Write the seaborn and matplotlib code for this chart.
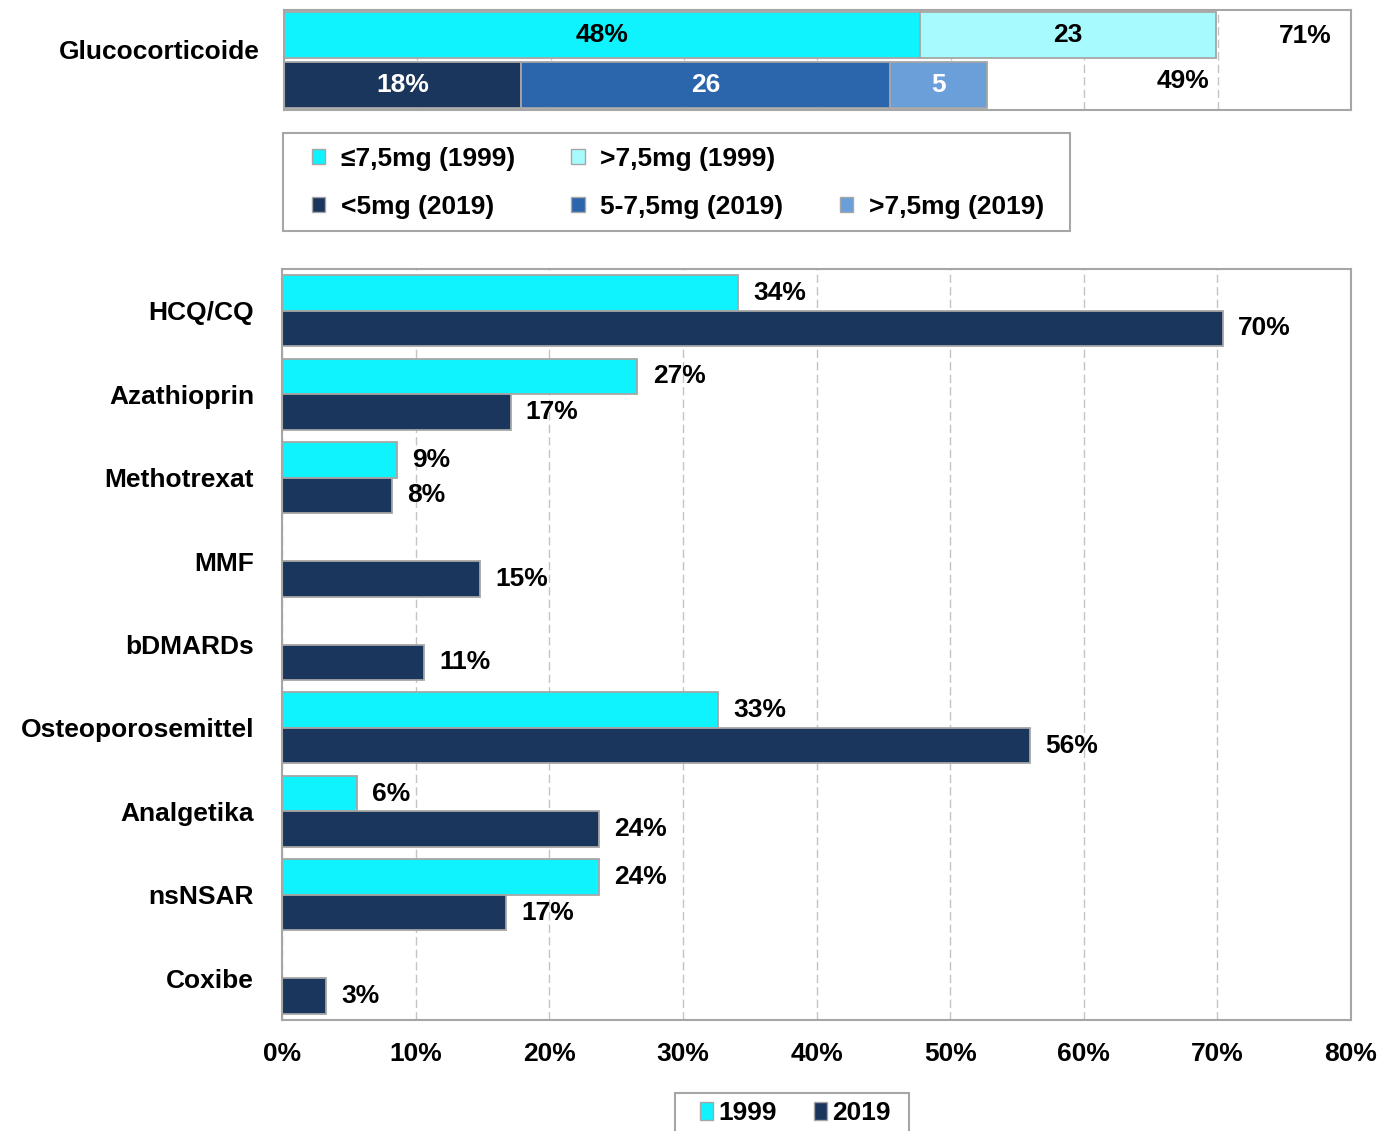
import numpy as np
import matplotlib.pyplot as plt
import pandas as pd
import seaborn as sns
from matplotlib.patches import Patch, Rectangle

# --- data ---------------------------------------------------------------
categories = ["HCQ/CQ", "Azathioprin", "Methotrexat", "MMF", "bDMARDs",
              "Osteoporosemittel", "Analgetika", "nsNSAR", "Coxibe"]
val_1999 = [34.1, 26.6, 8.6, np.nan, np.nan, 32.6, 5.6, 23.7, np.nan]
val_2019 = [70.4, 17.1, 8.2, 14.8, 10.6, 56.0, 23.7, 16.8, 3.3]
years = ["1999", "2019"]

# glucocorticoid stacked bars (segment lengths)
gc_1999 = [47.7, 22.2]
gc_1999_labels = ["48%", "23"]
gc_2019 = [17.8, 27.6, 7.3]
gc_2019_labels = ["18%", "26", "5"]
gc_totals = ["71%", "49%"]
gc_total_x = [76.6, 67.4]
gc_total_dy = [0.02, -0.08]
gc_legend = ["≤7,5mg (1999)", ">7,5mg (1999)",
             "<5mg (2019)", "5-7,5mg (2019)", ">7,5mg (2019)"]

x_ticks = [0, 10, 20, 30, 40, 50, 60, 70, 80]

# colours
CYAN = "#0ef3fd"
LIGHT_CYAN = "#a7fbfe"
NAVY = "#1b365d"
MID_BLUE = "#2b65ab"
LIGHT_BLUE = "#6b9fd9"
EDGE = "#a6a6a6"
GRID = "#c4c4c4"

sns.set_style("white")
plt.rcParams['font.family'] = ['Liberation Sans', 'DejaVu Sans']
plt.rcParams['font.weight'] = 'bold'
plt.rcParams['text.color'] = 'black'
plt.rcParams['xtick.color'] = 'black'
plt.rcParams['ytick.color'] = 'black'
FS = 19

fig = plt.figure(figsize=(13.81, 11.31), dpi=100)
ax = fig.add_axes([0.2042, 0.0981, 0.7741, 0.6641])
ax_top = fig.add_axes([0.2056, 0.9027, 0.7727, 0.0885])

# --- main chart ---------------------------------------------------------
df = pd.DataFrame({
    "Kategorie": categories * 2,
    "Jahr": ["1999"] * len(categories) + ["2019"] * len(categories),
    "Wert": val_1999 + val_2019,
}).dropna()

sns.barplot(data=df, y="Kategorie", x="Wert", hue="Jahr", hue_order=years,
            order=categories, palette={"1999": CYAN, "2019": NAVY},
            saturation=1, width=0.85, edgecolor=EDGE, linewidth=1.3,
            orient="h", legend=False, ax=ax, zorder=2)

for cont in ax.containers:
    ax.bar_label(cont, labels=[f"{v:.0f}%" for v in cont.datavalues],
                 padding=11, fontsize=FS, fontweight='bold')

ax.set_axisbelow(True)
ax.xaxis.grid(True, linestyle=(0, (6, 3)), color=GRID, linewidth=1)
ax.set_xlim(0, 80)
ax.set_xticks(x_ticks)
ax.set_xticklabels([f"{t}%" for t in x_ticks])
ax.tick_params(axis='x', length=0, pad=16, labelsize=FS)
ax.tick_params(axis='y', length=0, pad=20, labelsize=FS)
ax.set_xlabel("")
ax.set_ylabel("")
for s in ax.spines.values():
    s.set_visible(True)
    s.set_color(EDGE)
    s.set_linewidth(1.5)

# --- glucocorticoid panel -----------------------------------------------
rows = [(gc_1999, gc_1999_labels, [CYAN, LIGHT_CYAN], ["black", "black"]),
        (gc_2019, gc_2019_labels, [NAVY, MID_BLUE, LIGHT_BLUE],
         ["white", "white", "white"])]
for i, (vals, labels, cols, tcols) in enumerate(rows):
    left = 0
    for v, lab, c, tc in zip(vals, labels, cols, tcols):
        ax_top.barh(i, v, left=left, height=0.92, color=c, edgecolor=EDGE,
                    linewidth=1.3, zorder=2)
        ax_top.text(left + v / 2, i, lab, ha='center', va='center',
                    color=tc, fontsize=FS, fontweight='bold', zorder=3)
        left += v
    ax_top.text(gc_total_x[i], i + gc_total_dy[i], gc_totals[i],
                ha='center', va='center', fontsize=FS, fontweight='bold')

ax_top.set_axisbelow(True)
ax_top.xaxis.grid(True, linestyle=(0, (6, 3)), color=GRID, linewidth=1)
ax_top.set_xlim(0, 80)
ax_top.set_ylim(1.5, -0.5)
ax_top.set_xticks(x_ticks)
ax_top.set_yticks([])
ax_top.tick_params(labelbottom=False, length=0)
for s in ax_top.spines.values():
    s.set_visible(True)
    s.set_color(EDGE)
    s.set_linewidth(1.5)
ax_top.text(-0.0225, 0.58, "Glucocorticoide", transform=ax_top.transAxes,
            ha='right', va='center', fontsize=FS, fontweight='bold')

# --- legends --------------------------------------------------------------
# boxes drawn by hand so the entries can sit where they sit in the original
fig.patches.append(Rectangle((0.2049, 0.7958), 0.570, 0.0866,
                             transform=fig.transFigure, facecolor='white',
                             edgecolor=EDGE, linewidth=1.5, zorder=0))
fig.patches.append(Rectangle((0.4888, -0.01), 0.1694, 0.0436,
                             transform=fig.transFigure, facecolor='white',
                             edgecolor=EDGE, linewidth=1.5, zorder=0))

gc_cols = [CYAN, LIGHT_CYAN, NAVY, MID_BLUE, LIGHT_BLUE]
h = [Patch(facecolor=c, edgecolor=EDGE, linewidth=1) for c in gc_cols]
blank = Patch(facecolor='none', edgecolor='none')
# column-wise fill: row 1 = 1999 entries, row 2 = 2019 entries
handles = [h[0], h[2], h[1], h[3], blank, h[4]]
labels = [gc_legend[0], gc_legend[2], gc_legend[1], gc_legend[3], "",
          gc_legend[4]]
fig.legend(handles, labels, ncol=3, loc='upper left',
           bbox_to_anchor=(0.2259, 0.820, 0.530, 0.05),
           mode='expand', borderaxespad=0, fontsize=FS,
           handlelength=0.5, handleheight=0.5, handletextpad=0.6,
           labelspacing=0.92, borderpad=0, frameon=False)

yh = [Patch(facecolor=CYAN, edgecolor=EDGE, linewidth=1),
      Patch(facecolor=NAVY, edgecolor=EDGE, linewidth=1)]
fig.legend(yh, years, ncol=2, loc='center',
           bbox_to_anchor=(0.5760, 1 - 1113 / 1131), borderaxespad=0,
           fontsize=FS, handlelength=0.5, handleheight=0.7,
           handletextpad=0.2, columnspacing=1.4, borderpad=0,
           frameon=False)

fig.savefig("out.png", dpi=100)
